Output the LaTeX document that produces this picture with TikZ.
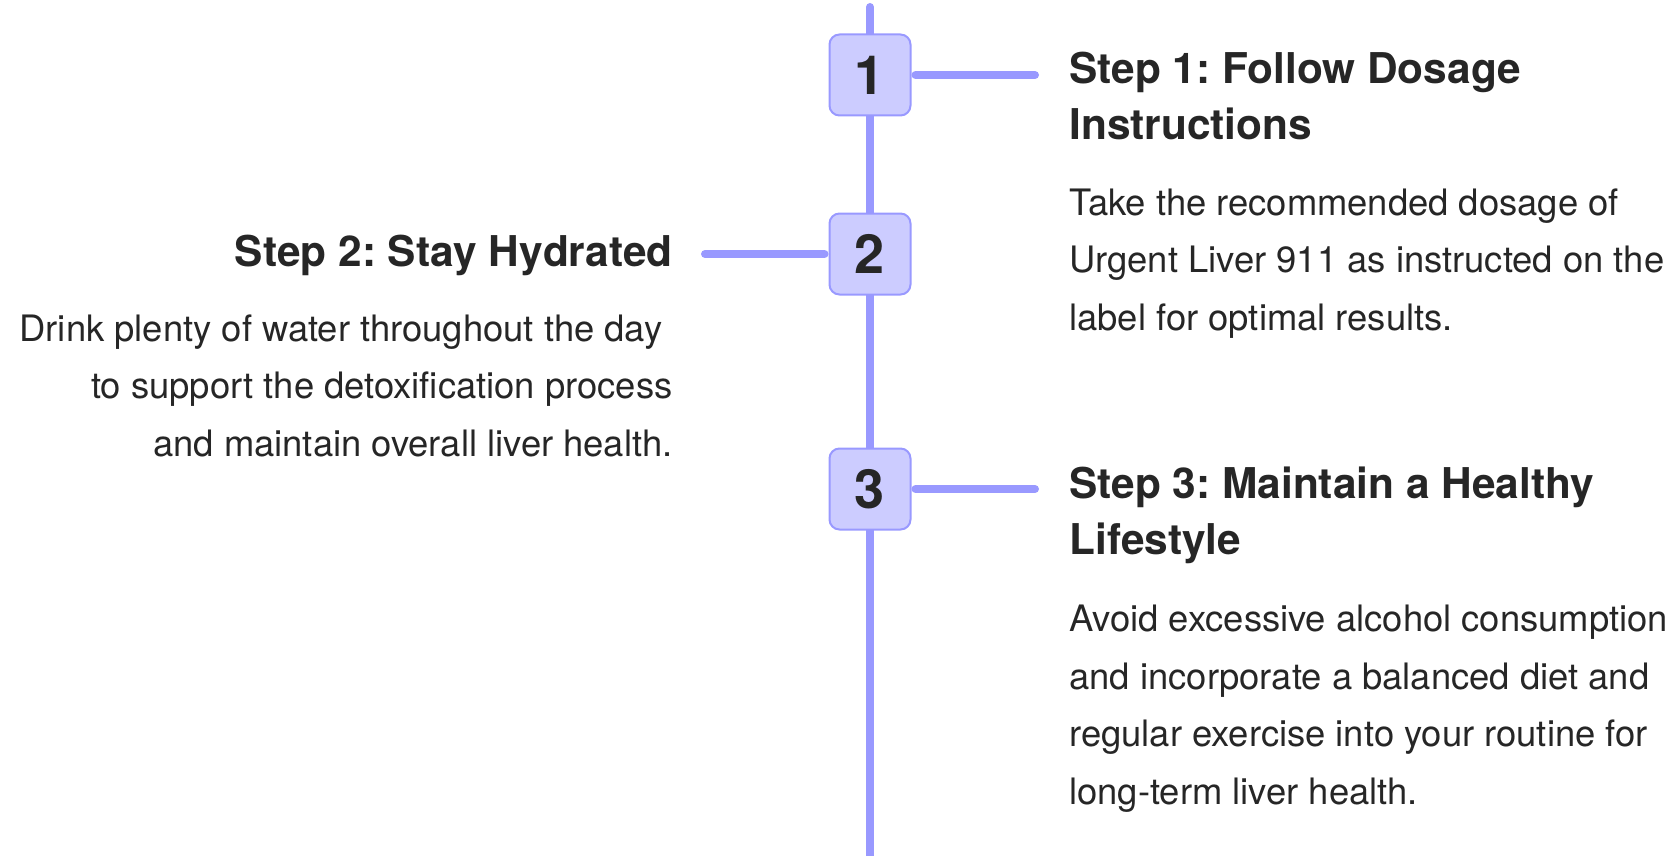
\documentclass[tikz,border=0pt]{standalone}
\usepackage{fontspec}
\setmainfont{TeX Gyre Heros}
\usepackage{tikz}
\usetikzlibrary{backgrounds}
\definecolor{linecol}{HTML}{9999FF}
\definecolor{boxfill}{HTML}{CCCCFF}
\definecolor{txtcol}{HTML}{262626}
\frenchspacing

\begin{document}
\begin{tikzpicture}[x=0.5pt,y=-0.5pt,
    numbox/.style={draw=linecol,fill=boxfill,line width=1pt,rounded corners=5pt,minimum size=40.5pt,inner sep=0pt,text=txtcol,font=\fontsize{27}{30}\selectfont\bfseries},
    steptitle/.style={inner sep=0pt,text=txtcol,font=\fontsize{21.2}{28}\selectfont\bfseries},
    stepdesc/.style={inner sep=0pt,text=txtcol,font=\fontsize{18.2}{28.75}\selectfont},
    link/.style={draw=linecol,line width=4pt,line cap=round}]
            \useasboundingbox (0,0) rectangle (1677,856);

            \node (step01) at (870,75) [numbox] {1};
            \node (step02) at (870,254) [numbox] {2};
            \node (step03) at (870,489) [numbox] {3};

            % anchors sit on the last line
            \node (title01) at (1069,140) [steptitle,anchor=base west,align=left] {Step 1: Follow Dosage\\Instructions};
            \node (text01) at (1069,330) [stepdesc,anchor=base west,align=left] {Take the recommended dosage of\\Urgent Liver 911 as instructed on the\\label for optimal results.};

            \node (title02) at (673,266) [steptitle,anchor=base east,align=right] {Step 2: Stay Hydrated};
            \node (text02) at (673,456) [stepdesc,anchor=base east,align=right] {Drink plenty of water throughout the day\hspace*{0.28em}\\to support the detoxification process\hspace*{0.28em}\\and maintain overall liver health.};

            \node (title03) at (1069,554) [steptitle,anchor=base west,align=left] {Step 3: Maintain a Healthy\\Lifestyle};
            \node (text03) at (1069,804) [stepdesc,anchor=base west,align=left] {Avoid excessive alcohol consumption\\and incorporate a balanced diet and\\regular exercise into your routine for\\long-term liver health.};

            \coordinate (end01) at (1035,75);
            \coordinate (end02) at (705,254);
            \coordinate (end03) at (1035,489);
            \draw[link,shorten <=2pt] (step01.east) -- (end01);
            \draw[link,shorten <=2pt] (step02.west) -- (end02);
            \draw[link,shorten <=2pt] (step03.east) -- (end03);

            \begin{scope}[on background layer]
            \coordinate (top) at (870,7);
            \coordinate (bottom) at (870,880);
            \draw[link] (top) -- (bottom);
            \end{scope}
        \end{tikzpicture}
\end{document}
